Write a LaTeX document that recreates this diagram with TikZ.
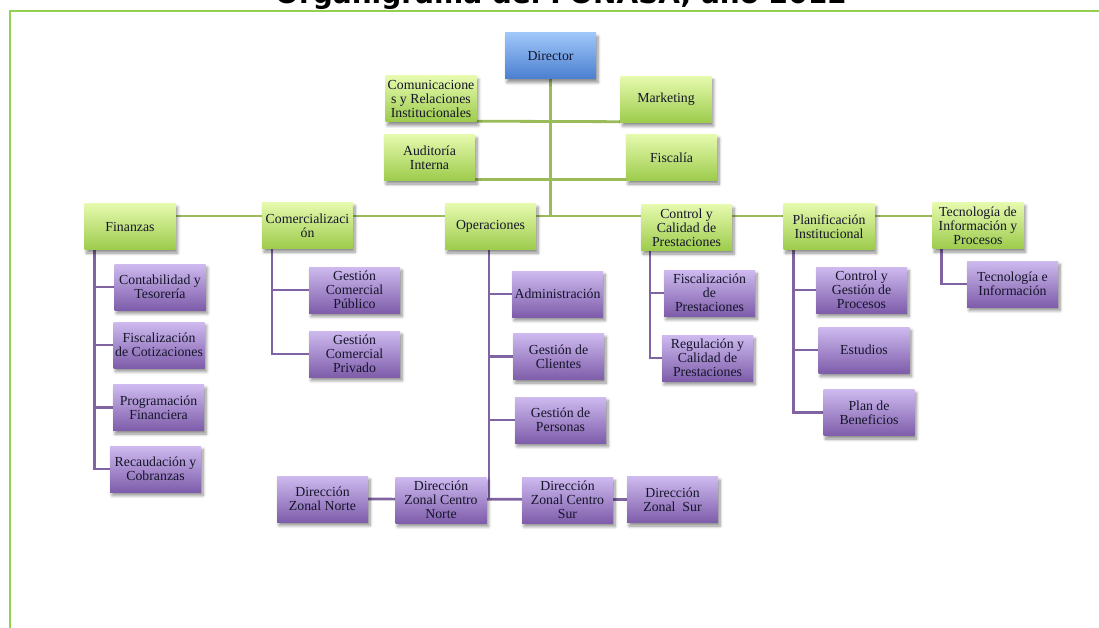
\documentclass[tikz,border=0pt]{standalone}
\usepackage{fontspec}
\setmainfont{Liberation Serif}
\newfontfamily\titlefont{DejaVu Sans}
\usetikzlibrary{shadows.blur}
\pgfdeclarelayer{background}
\pgfsetlayers{background,main}

\definecolor{framegreen}{HTML}{92D050}
\definecolor{linkgreen}{HTML}{9BBB59}
\definecolor{linkpurple}{HTML}{8064A2}
\definecolor{greentop}{HTML}{E6FAAE}
\definecolor{greenbot}{HTML}{9DCB4C}
\definecolor{purpletop}{HTML}{CEBAEF}
\definecolor{purplebot}{HTML}{7E5DAA}
\definecolor{bluetop}{HTML}{A0C6FA}
\definecolor{bluebot}{HTML}{4A7FCF}
\definecolor{boxtext}{HTML}{15152A}

\tikzset{
  unit/.style={rectangle, minimum width=91pt, minimum height=46pt, inner sep=0pt,
    align=center, text=boxtext, font=\fontsize{13.8}{14}\selectfont,
    blur shadow={shadow xshift=2pt, shadow yshift=-3.5pt, shadow opacity=45,
      shadow blur steps=6, shadow blur radius=3pt}},
  headbox/.style={unit, top color=bluetop, bottom color=bluebot},
  areabox/.style={unit, top color=greentop, bottom color=greenbot},
  subbox/.style={unit, top color=purpletop, bottom color=purplebot},
  glink/.style={draw=linkgreen, line width=2.8pt},
  plink/.style={draw=linkpurple, line width=2.6pt},
}

\begin{document}
\begin{tikzpicture}[x=1pt, y=-1pt]
\useasboundingbox (0,0) rectangle (1099,628);

% heading and frame
\node[anchor=base, font=\titlefont\bfseries\fontsize{28}{30}\selectfont, inner sep=0pt]
  (title) at (561,4) {Organigrama del FONASA, año 2012};
\draw[framegreen, line width=1.6pt] (10,628) -- (10,11) -- (1099,11);

% top management and staff units
\node[headbox] (dir) at (550.5,56) {Director};
\node[areabox] (com) at (431,99) {Comunicacione\\s y Relaciones\\Institucionales};
\node[areabox] (mkt) at (666,99.5) {Marketing};
\node[areabox] (aud) at (429.5,157.5) {Auditoría\\Interna};
\node[areabox] (fis) at (671.5,157.5) {Fiscalía};

% divisions
\node[areabox] (fin) at (130,226.5) {Finanzas};
\node[areabox] (cmz) at (307.5,225.5) {Comercializaci\\ón};
\node[areabox] (ops) at (490.5,226.5) {Operaciones};
\node[areabox] (ctl) at (686.5,227.5) {Control y\\Calidad de\\Prestaciones};
\node[areabox] (pla) at (829,226.5) {Planificación\\Institucional};
\node[areabox] (tec) at (978,225.5) {Tecnología de\\Información y\\Procesos};

% departments
\node[subbox] (ct) at (160,287) {Contabilidad y\\Tesorería};
\node[subbox] (fc) at (159,345) {Fiscalización\\de Cotizaciones};
\node[subbox] (pf) at (158.5,407.5) {Programación\\Financiera};
\node[subbox] (rc) at (155.5,469) {Recaudación y\\Cobranzas};

\node[subbox] (gcp) at (354.5,290) {Gestión\\Comercial\\Público};
\node[subbox] (gcv) at (354.5,354) {Gestión\\Comercial\\Privado};

\node[subbox] (adm) at (557.5,294) {Administración};
\node[subbox] (gcl) at (558.5,356.5) {Gestión de\\Clientes};
\node[subbox] (gpe) at (560.5,420) {Gestión de\\Personas};

\node[subbox] (fpr) at (709.5,293) {Fiscalización\\de\\Prestaciones};
\node[subbox] (rcp) at (707.5,358) {Regulación y\\Calidad de\\Prestaciones};

\node[subbox] (cgp) at (861.5,290) {Control y\\Gestión de\\Procesos};
\node[subbox] (est) at (864,350) {Estudios};
\node[subbox] (pbn) at (869,412.5) {Plan de\\Beneficios};

\node[subbox] (ti) at (1012.5,284) {Tecnología e\\Información};

\node[subbox] (zn) at (322.5,499) {Dirección\\Zonal Norte};
\node[subbox] (zcn) at (441,500) {Dirección\\Zonal Centro\\Norte};
\node[subbox] (zcs) at (567.5,500) {Dirección\\Zonal Centro\\Sur};
\node[subbox] (zs) at (672.5,499.5) {Dirección\\Zonal\ \ Sur};

% connectors
\coordinate (bus) at (0,216);
\coordinate (finS) at ([xshift=10pt]fin.south west);
\coordinate (cmzS) at ([xshift=10pt]cmz.south west);
\coordinate (ctlS) at ([xshift=9pt]ctl.south west);
\coordinate (plaS) at ([xshift=10pt]pla.south west);
\coordinate (tecS) at ([xshift=9pt]tec.south west);
\coordinate (opsS) at ([xshift=-1.5pt]ops.south);

\begin{pgfonlayer}{background}
  \draw[glink] (dir.south) -- (dir.south |- bus);
  \draw[glink] ([yshift=1pt]com.south east) -- ([yshift=1pt]mkt.south west);
  \draw[glink] ([yshift=1pt]aud.south east) -- ([yshift=1pt]fis.south west);
  \draw[glink] (fin.east |- bus) -- (tec.west |- bus);

  \draw[plink] (finS) |- (rc.west);
  \foreach \n in {ct,fc,pf} \draw[plink] (finS |- \n.west) -- (\n.west);
  \draw[plink] (cmzS) |- (gcv.west);
  \draw[plink] (cmzS |- gcp.west) -- (gcp.west);
  \draw[plink] (opsS) -- (opsS |- zcn.east);
  \foreach \n in {adm,gcl,gpe} \draw[plink] (opsS |- \n.west) -- (\n.west);
  \draw[plink] (zn.east) -- (zs.west);
  \draw[plink] (ctlS) |- (rcp.west);
  \draw[plink] (ctlS |- fpr.west) -- (fpr.west);
  \draw[plink] (plaS) |- (pbn.west);
  \foreach \n in {cgp,est} \draw[plink] (plaS |- \n.west) -- (\n.west);
  \draw[plink] (tecS) |- (ti.west);
\end{pgfonlayer}
\end{tikzpicture}
\end{document}
